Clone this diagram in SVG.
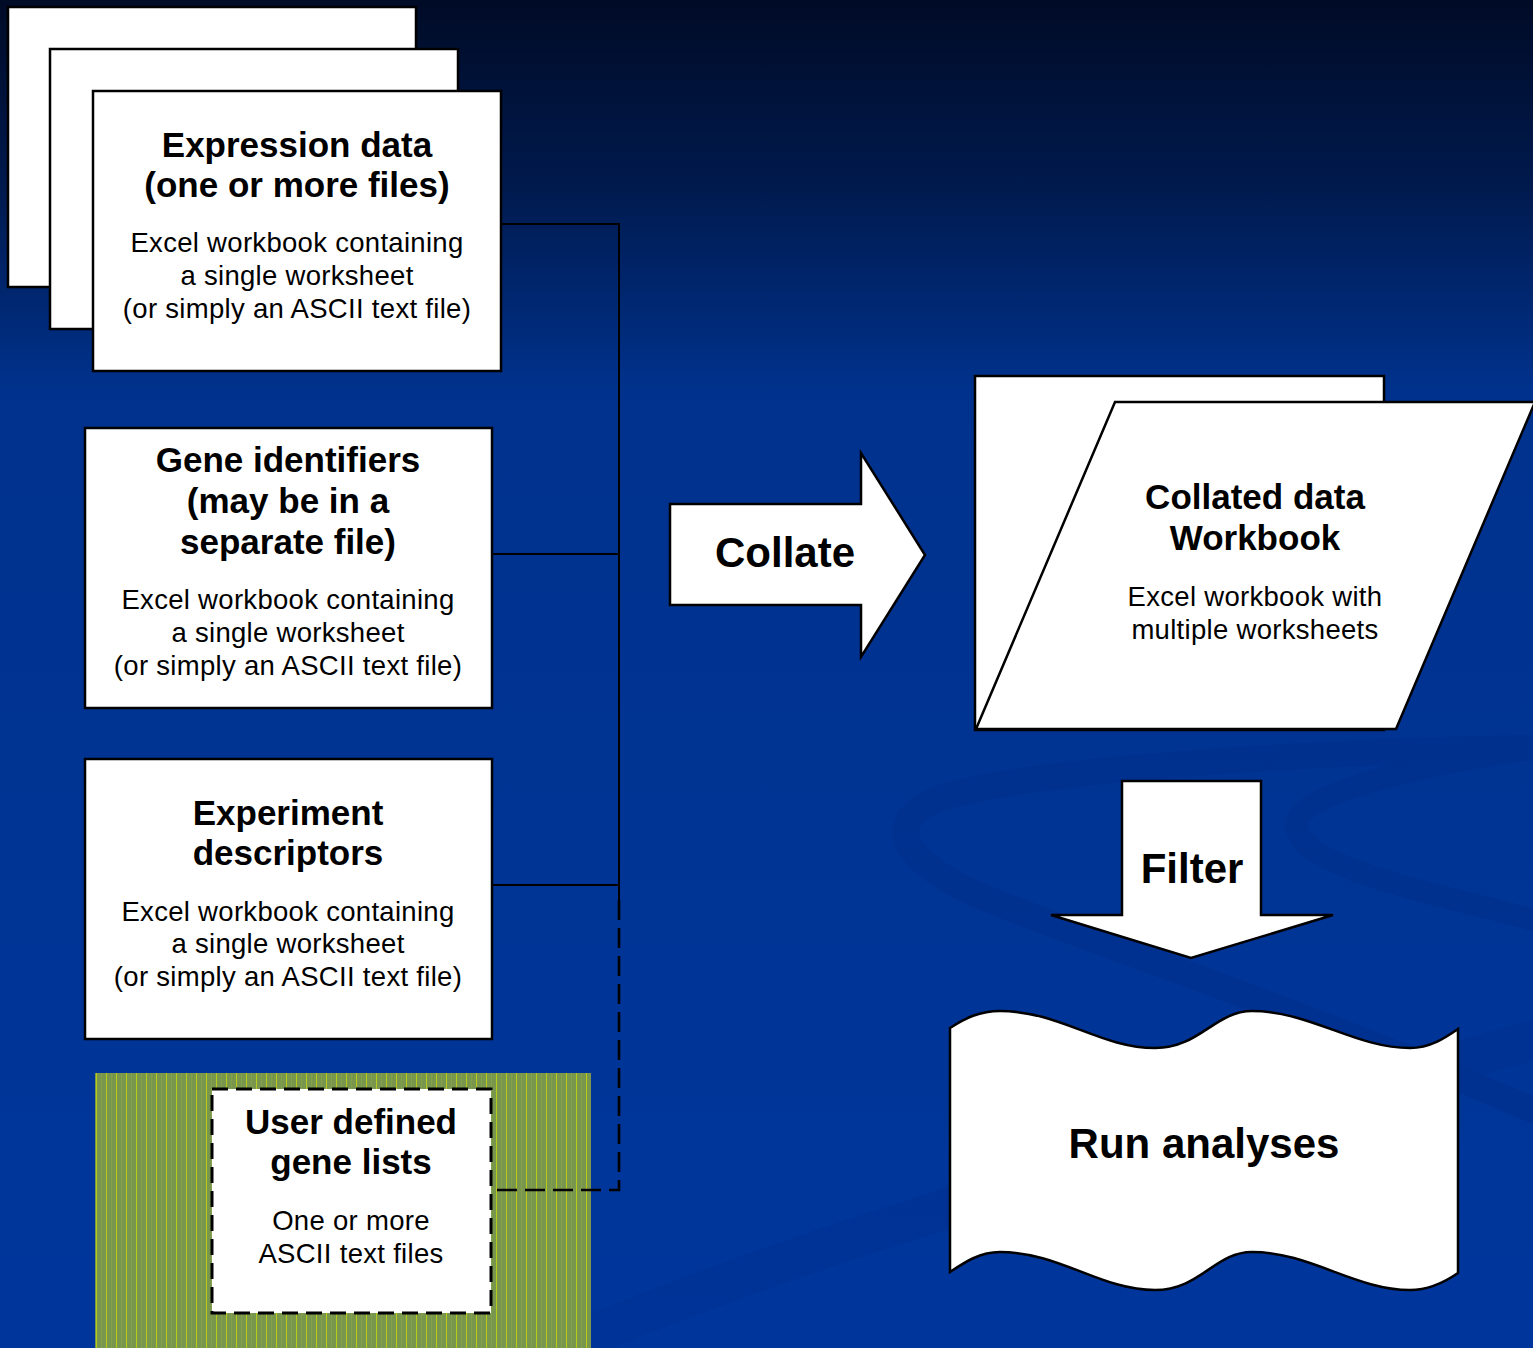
<svg xmlns="http://www.w3.org/2000/svg" width="1533" height="1348" viewBox="0 0 1533 1348">
<style>
.box{fill:#fff;stroke:#000;stroke-width:2.5}
.h{font-family:"Liberation Sans",Arial,sans-serif;font-weight:bold;font-size:35px;fill:#000;text-anchor:middle}
.s{font-family:"Liberation Sans",Arial,sans-serif;font-size:27.5px;fill:#000;text-anchor:middle;letter-spacing:0.3px}
.big{font-family:"Liberation Sans",Arial,sans-serif;font-weight:bold;font-size:42px;fill:#000;text-anchor:middle}
.ln{fill:none;stroke:#000;stroke-width:2}
.dash{fill:none;stroke:#000;stroke-width:2.6;stroke-dasharray:20 8}
.swirl{fill:none;stroke:#002c86;stroke-linecap:round}
</style>
<defs>
<linearGradient id="bg" x1="0" y1="0" x2="0" y2="1348" gradientUnits="userSpaceOnUse">
<stop offset="0" stop-color="#000b26"/>
<stop offset="0.14" stop-color="#001a4e"/>
<stop offset="0.29" stop-color="#00328d"/>
<stop offset="1" stop-color="#00369c"/>
</linearGradient>
<pattern id="hatch" x="95" y="0" width="10" height="10" patternUnits="userSpaceOnUse">
<rect width="10" height="10" fill="#78964e"/>
<rect x="1" width="1" height="10" fill="#d8e000" opacity="0.7"/>
<rect x="6" width="1" height="10" fill="#98b048" opacity="0.4"/>
</pattern>
</defs>
<rect width="1533" height="1348" fill="url(#bg)"/>
<g id="background-swirls" opacity="0.35">
<path class="swirl" stroke-width="26" d="M1533,748 C1300,752 1020,770 935,800 C880,825 905,865 990,900 C1100,945 1300,1010 1533,1110"/>
<path class="swirl" stroke-width="22" d="M1533,748 C1420,765 1320,790 1300,815 C1285,840 1320,862 1400,885 C1450,900 1500,910 1533,920"/>
<path class="swirl" stroke-width="40" opacity="0.6" d="M560,1348 C860,1220 1250,1120 1533,1040"/>
</g>
<g id="green-area">
<rect x="95" y="1073" width="496" height="275" fill="url(#hatch)"/>
</g>
<g id="connectors">
<path class="ln" d="M499,224 H619 V900"/>
<path class="ln" d="M491,554 H619"/>
<path class="ln" d="M491,885 H619"/>
<path class="dash" d="M619,900 V1190 H491"/>
</g>
<g id="expression-data">
<rect class="box" x="8" y="7" width="408" height="280"/>
<rect class="box" x="50" y="49" width="408" height="280"/>
<rect class="box" x="93" y="91" width="408" height="280"/>
<text class="h" x="297" y="157">Expression data</text>
<text class="h" x="297" y="197">(one or more files)</text>
<text class="s" x="297" y="252">Excel workbook containing</text>
<text class="s" x="297" y="285">a single worksheet</text>
<text class="s" x="297" y="318">(or simply an ASCII text file)</text>
</g>
<g id="gene-identifiers">
<rect class="box" x="85" y="428" width="407" height="280"/>
<text class="h" x="288" y="472">Gene identifiers</text>
<text class="h" x="288" y="513">(may be in a</text>
<text class="h" x="288" y="554">separate file)</text>
<text class="s" x="288" y="609">Excel workbook containing</text>
<text class="s" x="288" y="642">a single worksheet</text>
<text class="s" x="288" y="675">(or simply an ASCII text file)</text>
</g>
<g id="experiment-descriptors">
<rect class="box" x="85" y="759" width="407" height="280"/>
<text class="h" x="288" y="825">Experiment</text>
<text class="h" x="288" y="865">descriptors</text>
<text class="s" x="288" y="921">Excel workbook containing</text>
<text class="s" x="288" y="953">a single worksheet</text>
<text class="s" x="288" y="986">(or simply an ASCII text file)</text>
</g>
<g id="user-gene-lists">
<rect x="212" y="1089" width="279" height="224" fill="#fff" stroke="#000" stroke-width="3" stroke-dasharray="16 8"/>
<text class="h" x="351" y="1134">User defined</text>
<text class="h" x="351" y="1174">gene lists</text>
<text class="s" x="351" y="1230">One or more</text>
<text class="s" x="351" y="1263">ASCII text files</text>
</g>
<g id="collate-arrow">
<path class="box" d="M670,504 H861 V453 L925,555 L861,657 V605 H670 Z"/>
<text class="big" x="785" y="567">Collate</text>
</g>
<g id="collated-workbook">
<rect class="box" x="975" y="376" width="409" height="354"/>
<path class="box" d="M1115,402 H1535 L1396,729 H976 Z"/>
<text class="h" x="1255" y="509">Collated data</text>
<text class="h" x="1255" y="550">Workbook</text>
<text class="s" x="1255" y="606">Excel workbook with</text>
<text class="s" x="1255" y="639">multiple worksheets</text>
</g>
<g id="filter-arrow">
<path class="box" d="M1122,781 H1261 V915 H1333 L1191,958 L1051,915 H1122 Z"/>
<text class="big" x="1192" y="883">Filter</text>
</g>
<g id="run-analyses">
<path class="box" d="M950,1028 C965,1018 980,1011 1000,1011 C1060,1011 1100,1048 1155,1048 C1200,1048 1215,1011 1252,1011 C1310,1011 1355,1048 1410,1048 C1430,1048 1445,1038 1458,1029 L1458,1273 C1445,1282 1430,1290 1410,1290 C1355,1290 1310,1252 1252,1252 C1215,1252 1200,1290 1155,1290 C1100,1290 1060,1252 1000,1252 C980,1252 965,1262 950,1272 Z"/>
<text class="big" x="1204" y="1158">Run analyses</text>
</g>
</svg>
